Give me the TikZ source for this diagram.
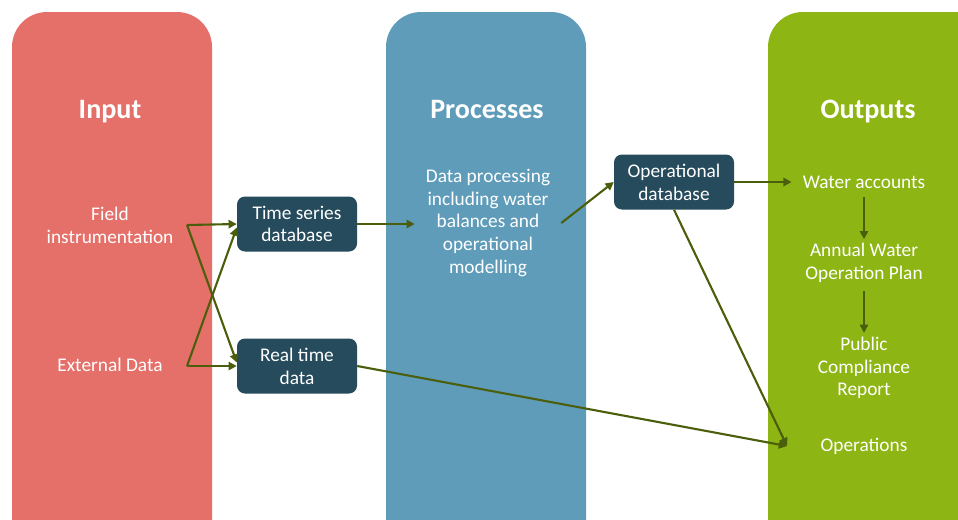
\documentclass[tikz,border=0pt]{standalone}
\usepackage{fontspec}
\setmainfont{Carlito}
\usetikzlibrary{arrows.meta}
\definecolor{inred}{HTML}{E5706A}
\definecolor{procblue}{HTML}{5F9CBA}
\definecolor{outgreen}{HTML}{8DB514}
\definecolor{dbblue}{HTML}{264B5C}
\definecolor{argreen}{HTML}{4B5E0C}

\begin{document}
\begin{tikzpicture}[x=0.03cm, y=-0.03cm, every node/.style={font=\fontsize{16.5}{19.4}\selectfont, text=white, align=center}]
    \tikzset{col/.style={rounded corners=1.05cm},
        ttl/.style={font=\fontsize{24}{28}\selectfont\bfseries, anchor=base},
        db/.style={fill=dbblue, rounded corners=0.24cm, minimum width=3.6cm, minimum height=1.65cm, inner sep=1pt},
        ar/.style={draw=argreen, line width=1.8pt, -{Triangle[length=7pt,width=7pt]}}}
    \clip (0,0) rectangle (958,519);
    \fill[white] (0,0) rectangle (958,519);
    \fill[inred, col] (12,12) rectangle (212,560);
    \fill[procblue, col] (386,12) rectangle (586,560);
    \fill[outgreen, col] (768,12) rectangle (1000,560);
    \node[ttl] (tin) at (110,118) {Input};
    \node[ttl] (tproc) at (487,118) {Processes};
    \node[ttl] (tout) at (868,118) {Outputs};
    \node (field) at (110,225) {Field\\instrumentation};
    \node (ext) at (110,365) {External Data};
    \node[db] (ts) at (297,224) {Time series\\database};
    \node[db] (rt) at (297,366) {Real time\\data};
    \node (proc) at (488,223) {Data processing\\including water\\balances and\\operational\\modelling};
    \node[db] (op) at (674,182) {Operational\\database};
    \node (wacc) at (864,182) {Water accounts};
    \node (plan) at (864,263) {Annual Water\\Operation Plan};
    \node (pcr) at (864,368) {Public\\Compliance\\Report};
    \node (ops) at (864,446) {Operations};
    \coordinate (fo) at (187,225);
    \coordinate (eo) at (187,366);
    \coordinate (opin) at (787,446);
    \draw[ar] (fo) -- (ts.west);
    \draw[ar] (fo) -- ([yshift=3pt]rt.west);
    \draw[ar] (eo) -- (rt.west);
    \draw[ar] (eo) -- ([yshift=-3pt]ts.west);
    \draw[ar] (ts.east) -- ([xshift=-6pt]proc.west |- ts.east);
    \draw[ar] ([xshift=6pt]proc.east) -- (op.west);
    \draw[ar] (op.east) -- ([xshift=-6pt]wacc.west);
    \draw[ar, shorten <=4pt] (wacc.south) -- (plan.north);
    \draw[ar, shorten <=4pt] (plan.south) -- (pcr.north);
    \draw[ar] (op.south) -- (opin);
    \draw[ar] (rt.east) -- (opin);
\end{tikzpicture}
\end{document}
